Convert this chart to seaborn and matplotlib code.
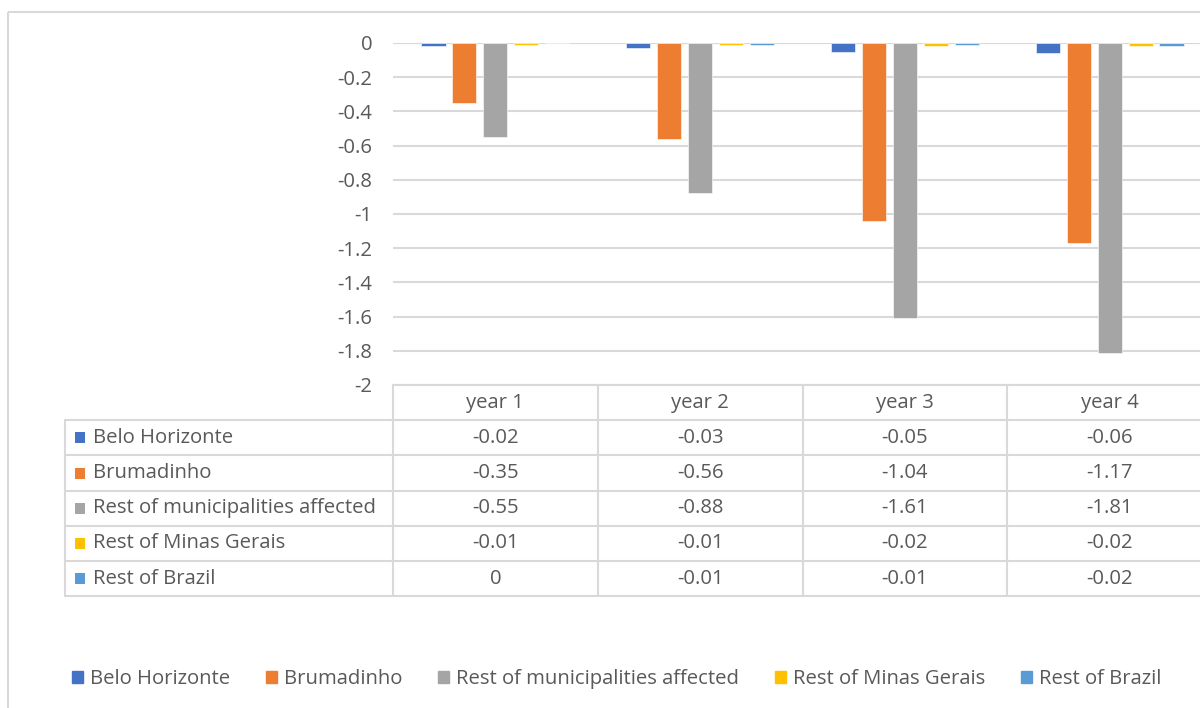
import matplotlib
matplotlib.use("Agg")
import matplotlib.pyplot as plt
from matplotlib.patches import Rectangle
import seaborn as sns
import pandas as pd

# Data
years = ["year 1", "year 2", "year 3", "year 4"]
regions = ["Belo Horizonte", "Brumadinho", "Rest of municipalities affected",
           "Rest of Minas Gerais", "Rest of Brazil"]
belo_horizonte = [-0.02, -0.03, -0.05, -0.06]
brumadinho = [-0.35, -0.56, -1.04, -1.17]
rest_municipalities = [-0.55, -0.88, -1.61, -1.81]
rest_minas_gerais = [-0.01, -0.01, -0.02, -0.02]
rest_brazil = [0, -0.01, -0.01, -0.02]
y_ticks = [0, -0.2, -0.4, -0.6, -0.8, -1, -1.2, -1.4, -1.6, -1.8, -2]

series = [belo_horizonte, brumadinho, rest_municipalities, rest_minas_gerais, rest_brazil]
colors = ["#4472C4", "#ED7D31", "#A5A5A5", "#FFC000", "#5B9BD5"]
text_color = "#595959"
grid_color = "#D9D9D9"
fs = 14.6

df = pd.DataFrame(
    [(y, r, v) for r, vals in zip(regions, series) for y, v in zip(years, vals)],
    columns=["year", "region", "value"],
)

sns.set_theme(style="white")
plt.rcParams["font.family"] = ["Open Sans", "DejaVu Sans"]

W, H = 1200, 708
fig = plt.figure(figsize=(W / 100, H / 100), dpi=100)

# Pixel-space overlay for frame, data table and legend
ov = fig.add_axes([0, 0, 1, 1])
ov.set_xlim(0, W)
ov.set_ylim(H, 0)
ov.axis("off")
ov.add_patch(Rectangle((8, 12), W + 20, H + 20, fill=False, ec=grid_color, lw=1.5))

# Plot area
px_left, px_right, px_top, px_bottom = 393, 1212, 43, 385
ax = fig.add_axes([px_left / W, 1 - px_bottom / H,
                   (px_right - px_left) / W, (px_bottom - px_top) / H])
sns.barplot(data=df, x="year", y="value", hue="region", hue_order=regions,
            palette=colors, saturation=1, width=0.756, gap=0.22, ax=ax,
            legend=False, edgecolor="white", linewidth=0.4, zorder=3)
ax.set_ylim(-2, 0)
ax.set_xlim(-0.5, 3.5)
ax.set_yticks(y_ticks)
ax.set_yticklabels([f"{t:g}" for t in y_ticks], color=text_color, fontsize=fs)
ax.tick_params(axis="y", length=0, pad=15)
ax.set_xticks([])
ax.set_xlabel("")
ax.set_ylabel("")
ax.grid(axis="y", color=grid_color, lw=1.5, zorder=0)
for s in ax.spines.values():
    s.set_visible(False)
ax.axhline(0, color=grid_color, lw=1.5, zorder=1)
ax.patch.set_alpha(0)

# Data table under the plot
cat_w = (px_right - px_left) / len(years)
col_edges = [px_left + i * cat_w for i in range(len(years) + 1)]
row_h = 35.2
tab_top = px_bottom
tab_left = 65
lkw = dict(color=grid_color, lw=1.5)
n_rows = len(regions)
ov.plot([px_left, px_right], [tab_top, tab_top], **lkw)
for i, y in enumerate(years):
    cx = (col_edges[i] + col_edges[i + 1]) / 2
    ov.text(cx, tab_top + row_h / 2, y, ha="center", va="center",
            color=text_color, fontsize=fs)
for j in range(n_rows + 1):
    yy = tab_top + row_h * (j + 1)
    ov.plot([tab_left, px_right], [yy, yy], **lkw)
for x in col_edges:
    ov.plot([x, x], [tab_top, tab_top + row_h * (n_rows + 1)], **lkw)
ov.plot([tab_left, tab_left], [tab_top + row_h, tab_top + row_h * (n_rows + 1)], **lkw)
for j, (r, vals, c) in enumerate(zip(regions, series, colors)):
    cy = tab_top + row_h * (j + 1.5)
    ov.add_patch(Rectangle((75, cy - 5.5), 10, 11, color=c, lw=0))
    ov.text(93, cy, r, ha="left", va="center", color=text_color, fontsize=fs)
    for i, v in enumerate(vals):
        cx = (col_edges[i] + col_edges[i + 1]) / 2
        ov.text(cx, cy, f"{v:g}", ha="center", va="center",
                color=text_color, fontsize=fs)

# Legend
handles = [Rectangle((0, 0), 1, 1, color=c) for c in colors]
fig.legend(handles, regions, loc="center", bbox_to_anchor=(616.5 / W, 1 - 679 / H),
           ncol=5, frameon=False, handlelength=0.55, handleheight=0.55,
           handletextpad=0.35, columnspacing=1.75,
           prop={"size": fs}, labelcolor=text_color)

fig.savefig("out.png", dpi=100)
